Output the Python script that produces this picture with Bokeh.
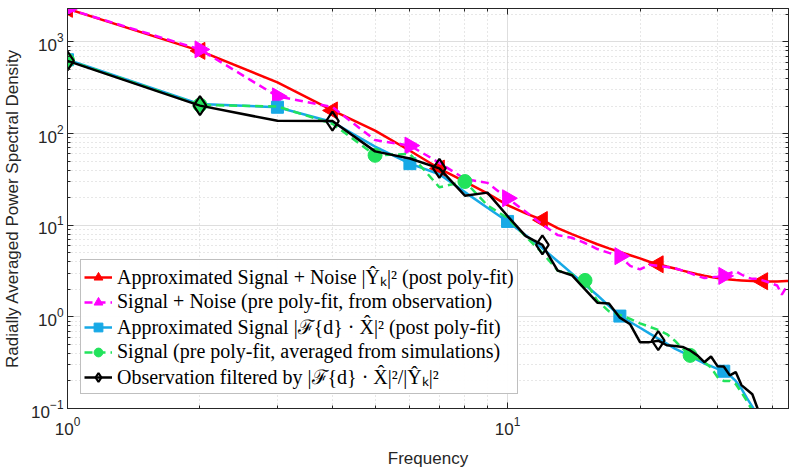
import numpy as np
from bokeh.plotting import figure
from bokeh.models import LogAxis, Legend, LegendItem, Range1d, FixedTicker
from bokeh.embed import file_html
from bokeh.resources import INLINE

freq = list(range(1, 45))

approx_sn = [2300, 800, 363, 179, 108, 65, 41.6, 30, 22.3, 16.6, 13.5, 11.4, 9.3, 8.0, 7.0,
             6.2, 5.6, 5.1, 4.7, 4.35, 4.0, 3.75, 3.55, 3.37, 3.2, 3.05, 2.92, 2.82, 2.73,
             2.66, 2.6, 2.56, 2.52, 2.5, 2.48, 2.46, 2.45, 2.45, 2.44, 2.44, 2.44, 2.45,
             2.46, 2.47]
obs_sn = [2300, 830, 255, 195, 85, 74, 48, 32, 29, 19.7, 14, 10.2, 7.8, 7.3, 6.4, 5.5, 5.0,
          4.6, 3.6, 3.3, 3.7, 3.6, 3.5, 3.4, 3.2, 3.0, 2.8, 2.65, 2.7, 2.75, 2.8, 3.0, 3.15,
          2.9, 2.7, 2.6, 2.6, 2.5, 2.4, 2.3, 2.2, 1.75, 2.1, 2.0]
approx_sig = [640, 210, 194, 134, 72, 47, 36, 23, 15.5, 11, 7.8, 5.6, 4.05, 2.98, 2.24, 1.72,
              1.32, 1.02, 0.88, 0.76, 0.66, 0.58, 0.51, 0.45, 0.41, 0.37, 0.34, 0.31, 0.29,
              0.27, 0.255, 0.23, 0.2, 0.165, 0.13, 0.105, 0.085, 0.06]
sig = [630, 205, 198, 128, 58, 60, 26, 30, 16.5, 12, 7.5, 5.0, 3.2, 2.9, 2.5, 1.5, 1.15,
       1.05, 0.95, 0.85, 0.78, 0.72, 0.65, 0.55, 0.45, 0.38, 0.35, 0.32, 0.28, 0.22, 0.2,
       0.2, 0.185, 0.15, 0.12, 0.095, 0.08]
obs_filt = [623, 202, 138, 137, 64, 53.5, 41.7, 21, 22.7, 12.6, 7.6, 6.1, 3.2, 2.85, 2.0,
            1.43, 1.40, 0.98, 0.83, 0.53, 0.53, 0.55, 0.49, 0.48, 0.47, 0.43, 0.38, 0.32,
            0.37, 0.29, 0.287, 0.23, 0.25, 0.18, 0.16, 0.143, 0.1, 0.075]

idx_red = [0, 1, 3, 6, 11, 21, 37]
idx_mag = [0, 1, 2, 5, 9, 17, 30]
idx_blue = [0, 2, 5, 9, 17, 30]
idx_green = [0, 1, 4, 7, 14, 25]
idx_black = [0, 1, 3, 6, 11, 21]

x_major = [1, 10]
x_minor = [2, 3, 4, 5, 6, 7, 8, 9, 20, 30, 40]
y_major = [0.1, 1, 10, 100, 1000]
y_minor = [m * 10.0 ** e for e in range(-1, 4) for m in range(2, 10)]

labels = [
    "Approximated Signal + Noise |Ŷ\u2096|\u00b2 (post poly-fit)",
    "Signal + Noise (pre poly-fit, from observation)",
    "Approximated Signal |\u2131{d} \u00b7 X\u0302|\u00b2 (post poly-fit)",
    "Signal (pre poly-fit, averaged from simulations)",
    "Observation filtered by |\u2131{d} \u00b7 X\u0302|\u00b2/|Ŷ\u2096|\u00b2",
]

RED = "#FF0000"
MAG = "#FF00FF"
BLUE = "#17A9E6"
GREEN = "#22E35C"
BLACK = "#000000"
AX = "#262626"

p = figure(width=790, height=470, x_axis_type="log", y_axis_type="log",
           x_range=Range1d(1, 43.5), y_range=Range1d(0.1, 2320),
           output_backend="svg", toolbar_location=None,
           min_border_left=67, min_border_right=2, min_border_top=8, min_border_bottom=10)

bottom_ax = p.below[0]
left_ax = p.left[0]

def sub(xs, ys, idx):
    return [xs[i] for i in idx], [ys[i] for i in idx]

# red
f = freq[:len(approx_sn)]
r1 = p.line(f, approx_sn, line_color=RED, line_width=2.5)
mx, my = sub(f, approx_sn, idx_red)
m1 = p.scatter(mx, my, marker="triangle", angle=np.pi/2, size=17, fill_color=RED, line_color=RED)
# magenta
f = freq[:len(obs_sn)]
r2 = p.line(f, obs_sn, line_color=MAG, line_width=2.5, line_dash="8 5")
mx, my = sub(f, obs_sn, idx_mag)
m2 = p.scatter(mx, my, marker="triangle", angle=-np.pi/2, size=17, fill_color=MAG, line_color=MAG)
# blue
f = freq[:len(approx_sig)]
r3 = p.line(f, approx_sig, line_color=BLUE, line_width=2.5)
mx, my = sub(f, approx_sig, idx_blue)
m3 = p.scatter(mx, my, marker="square", size=12, fill_color=BLUE, line_color=BLUE)
# green
f = freq[:len(sig)]
r4 = p.line(f, sig, line_color=GREEN, line_width=2.5, line_dash="8 5")
mx, my = sub(f, sig, idx_green)
m4 = p.scatter(mx, my, marker="circle", size=14, fill_color=GREEN, line_color=GREEN)
# black
f = freq[:len(obs_filt)]
r5 = p.line(f, obs_filt, line_color=BLACK, line_width=2.5)
mx, my = sub(f, obs_filt, idx_black)
m5 = p.scatter(mx, my, marker="diamond", size=19, fill_color="white", fill_alpha=0.0,
               line_color=BLACK, line_width=2.2)

legend = Legend(items=[
    LegendItem(label=labels[0], renderers=[r1, m1]),
    LegendItem(label=labels[1], renderers=[r2, m2]),
    LegendItem(label=labels[2], renderers=[r3, m3]),
    LegendItem(label=labels[3], renderers=[r4, m4]),
    LegendItem(label=labels[4], renderers=[r5, m5]),
], location=(13, 14))
legend.label_text_font = "Liberation Serif"
legend.label_text_font_size = "20px"
legend.label_text_color = "#000000"
legend.glyph_width = 28
legend.glyph_height = 22
legend.label_height = 22
legend.spacing = -2
legend.padding = 3
legend.margin = 0
legend.border_line_color = "#7f7f7f"
legend.border_line_width = 1
legend.background_fill_color = "white"
legend.label_standoff = 5
p.add_layout(legend)

bottom_ax.ticker = FixedTicker(ticks=x_major, minor_ticks=x_minor)
left_ax.ticker = FixedTicker(ticks=y_major, minor_ticks=y_minor)

top_ax = LogAxis(ticker=FixedTicker(ticks=x_major, minor_ticks=x_minor))
right_ax = LogAxis(ticker=FixedTicker(ticks=y_major, minor_ticks=y_minor))
p.add_layout(top_ax, "above")
p.add_layout(right_ax, "right")

for ax in (bottom_ax, left_ax, top_ax, right_ax):
    ax.axis_line_color = AX
    ax.major_tick_line_color = AX
    ax.minor_tick_line_color = AX
    ax.major_tick_in = 6
    ax.major_tick_out = 0
    ax.minor_tick_in = 3
    ax.minor_tick_out = 0
    ax.major_label_text_font = "Liberation Sans"
    ax.major_label_text_font_size = "17px"
    ax.major_label_text_color = AX
    ax.axis_label_text_font = "Liberation Sans"
    ax.axis_label_text_font_size = "17px"
    ax.axis_label_text_font_style = "normal"
    ax.axis_label_text_color = AX

for ax in (top_ax, right_ax):
    ax.major_label_text_font_size = "0px"
    ax.major_label_standoff = 0
    ax.major_label_text_alpha = 0

bottom_ax.axis_label = "Frequency"
left_ax.axis_label = "Radially Averaged Power Spectral Density"
bottom_ax.major_label_standoff = 8
left_ax.major_label_standoff = 4
left_ax.axis_label_standoff = 6
bottom_ax.axis_label_standoff = 11

for g in (p.xgrid[0], p.ygrid[0]):
    g.grid_line_color = "#dedede"
    g.grid_line_width = 1
    g.minor_grid_line_color = "#cfcfcf"
    g.minor_grid_line_dash = "1 3"
    g.minor_grid_line_width = 1

p.outline_line_color = AX
p.outline_line_width = 1
p.background_fill_color = "white"
p.border_fill_color = "white"

open("out.html", "w").write(file_html(p, INLINE))
